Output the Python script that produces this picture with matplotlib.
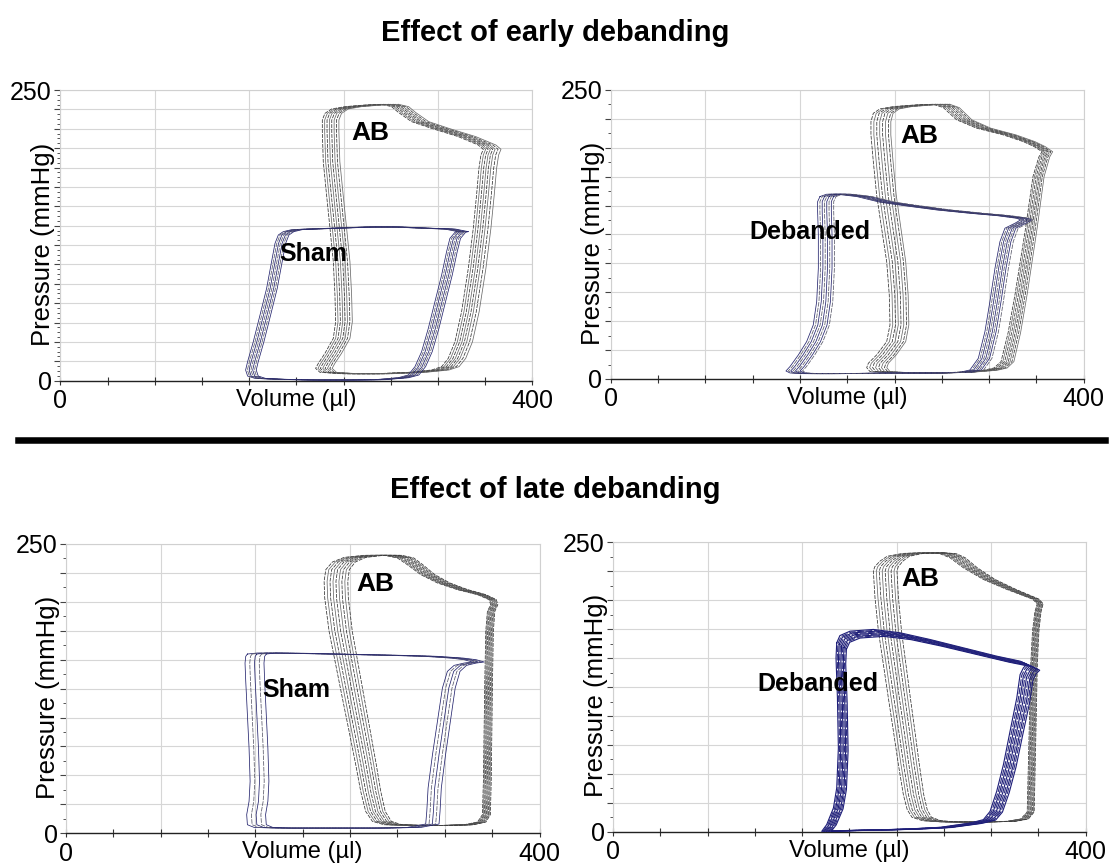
import numpy as np
import matplotlib.pyplot as plt
from matplotlib.lines import Line2D
from matplotlib.ticker import FixedLocator, MultipleLocator

plt.rcParams["font.family"] = ["Liberation Sans", "DejaVu Sans"]

# ---- axis ticks -------------------------------------------------------------
X_TICKS = [0, 80, 160, 240, 320, 400]
X_TICK_LABELS = ["0", "", "", "", "", "400"]

# ---- top-left: early debanding, AB + Sham (volume µl, pressure mmHg) --------
AB1_V = [272.2, 258.1, 241.2, 229.9, 224.2, 222.0, 222.0, 222.8, 225.6, 228.5, 231.3, 232.7,
         233.3, 231.3, 224.2, 218.6, 216.3, 220.0, 238.3, 266.6, 294.8, 314.6, 323.1, 328.7,
         334.4, 340.0, 345.7, 349.9, 352.7, 354.7, 356.4, 358.4, 354.1, 337.2, 314.6, 297.6,
         286.4, 280.7]
AB1_P = [237.7, 237.1, 235.7, 233.7, 229.9, 224.2, 214.2, 188.4, 159.7, 131.0, 102.4, 73.7,
         50.7, 36.4, 23.5, 14.9, 10.6, 7.2, 6.0, 6.0, 7.2, 9.2, 12.1, 19.2,
         33.5, 59.3, 96.6, 131.0, 159.7, 182.6, 194.1, 199.0, 202.7, 209.9, 217.0, 222.8,
         230.8, 235.7]
AB1_LEFT = [0, 2, 4, 6, 8, 10, 12, 14]
AB1_RIGHT = [0, 2, 4, 6, 8, 10, 12.5, 15]

SHAM1_V = [336.6, 325.9, 308.9, 280.7, 258.1, 241.2, 224.2, 207.3, 196.0, 188.9, 184.7, 181.9,
           179.0, 174.8, 169.2, 163.5, 158.7, 157.0, 158.7, 164.9, 181.9, 210.1, 238.3, 266.6,
           286.4, 294.8, 300.5, 306.1, 311.8, 317.4, 323.1, 327.3, 330.1, 334.4]
SHAM1_P = [128.2, 130.4, 131.0, 132.2, 132.2, 131.6, 131.0, 130.4, 129.9, 128.2, 125.3, 118.1,
           102.4, 79.4, 56.5, 33.5, 16.4, 9.2, 4.0, 2.0, 1.2, 0.6, 0.6, 0.9,
           2.6, 4.9, 12.1, 24.9, 45.0, 67.9, 90.9, 111.0, 122.4, 127.6]
SHAM1_LEFT = [0, 1.5, 3, 4.5, 6, 7.5, 9]
SHAM1_RIGHT = [0, 1.5, 3, 4.5, 6, 7.5, 9]

# ---- top-right: early debanding, AB + Debanded ------------------------------
AB2_V = [272.7, 258.6, 238.9, 227.6, 222.0, 220.0, 220.0, 222.0, 224.8, 229.0, 233.3, 235.5,
         236.1, 233.3, 224.8, 217.8, 216.4, 219.2, 241.7, 269.9, 292.5, 315.0, 324.0, 330.0,
         336.0, 342.0, 351.0, 357.0, 362.0, 364.7, 358.0, 348.8, 331.9, 309.4, 292.5, 281.2]
AB2_P = [237.6, 237.1, 235.6, 233.6, 229.8, 222.6, 211.1, 188.0, 159.2, 130.4, 101.5, 72.7,
         46.7, 32.3, 20.8, 13.6, 9.8, 6.4, 5.2, 5.2, 5.8, 7.5, 9.5, 15.0,
         40.0, 74.0, 131.8, 175.0, 192.0, 196.6, 201.0, 205.3, 211.1, 216.9, 224.1, 234.7]
AB2_LEFT = [0, 2.5, 5, 7.5, 10, 12.5, 15, 17]
AB2_RIGHT = [0, 1.2, 2.5, 3.8, 5, 6.2, 7.5, 9]

DEB2_V = [176.9, 182.5, 191.0, 207.9, 227.6, 247.4, 275.5, 303.7, 326.3, 343.2, 346.6, 341.8,
          333.3, 329.1, 324.9, 320.6, 316.4, 310.8, 303.7, 295.3, 269.9, 241.7, 213.5, 185.3,
          162.8, 151.5, 148.1, 151.5, 158.6, 165.6, 171.2, 174.1, 175.5, 175.5, 174.9, 174.9]
DEB2_P = [157.8, 159.8, 159.8, 157.8, 152.9, 150.0, 146.2, 143.3, 141.3, 139.0, 137.6, 134.7,
          130.4, 118.8, 95.8, 66.9, 41.0, 17.9, 7.8, 5.8, 5.2, 5.2, 4.9, 4.6,
          4.6, 5.2, 6.9, 10.7, 20.8, 32.3, 46.7, 66.9, 95.8, 124.6, 144.8, 153.4]
DEB2_LEFT = [0, 2, 4, 6, 8, 10, 12, 14]
DEB2_RIGHT = [0, 1.5, 3, 4.5, 6, 7.5, 9, 11]

# ---- bottom-left: late debanding, AB + Sham ---------------------------------
AB3_V = [268.7, 251.8, 235.0, 225.1, 219.5, 218.1, 218.6, 222.3, 227.9, 233.5, 239.2, 244.8,
         249.0, 253.2, 258.9, 268.7, 291.3, 316.6, 336.3, 347.6, 351.8, 352.6, 353.2, 353.8,
         354.6, 356.0, 358.8, 357.4, 347.6, 330.7, 313.8, 299.7, 288.4, 280.0]
AB3_P = [240.2, 240.2, 238.4, 234.4, 227.8, 217.7, 203.3, 174.5, 145.7, 116.9, 88.1, 59.3,
         36.2, 18.9, 10.3, 7.4, 6.8, 6.8, 7.4, 9.7, 16.1, 44.9, 88.1, 131.3,
         174.5, 191.8, 197.5, 201.9, 206.2, 210.5, 216.3, 223.5, 232.1, 237.9]
AB3_LEFT = [0, 2.5, 5, 7.5, 10, 12.5, 15, 17.5, 20]
AB3_RIGHT = [0, 0.7, 1.5, 2.2, 3, 3.7, 4.5, 5.2, 6]

SHAM3_V = [153.3, 161.8, 189.9, 218.1, 246.2, 274.4, 302.5, 325.0, 336.3, 343.3, 336.3, 327.9,
           322.2, 318.0, 313.8, 309.6, 305.9, 304.8, 303.9, 288.4, 260.3, 232.1, 204.0, 175.8,
           158.9, 153.3, 152.7, 154.7, 155.6, 154.7, 153.3, 151.9, 151.3, 151.9]
SHAM3_P = [154.9, 155.8, 155.5, 154.9, 154.3, 153.7, 152.9, 151.4, 150.0, 148.0, 147.1, 145.1,
           139.9, 125.5, 96.7, 67.9, 39.1, 18.9, 8.0, 5.1, 4.5, 4.5, 4.5, 4.5,
           5.1, 7.4, 16.1, 27.6, 44.9, 73.7, 102.5, 131.3, 147.1, 152.9]
SHAM3_LEFT = [0, 4, 8, 12, 16]
SHAM3_RIGHT = [0, 2.5, 5, 7.5, 10]

# ---- bottom-right: late debanding, AB + Debanded ----------------------------
AB4_V = [265.1, 245.0, 232.0, 226.0, 221.5, 220.3, 221.7, 224.6, 228.8, 233.0, 237.3, 241.5,
         245.7, 249.0, 253.0, 262.0, 276.8, 305.0, 333.2, 345.0, 350.5, 351.5, 352.5, 353.5,
         355.0, 357.0, 359.0, 355.0, 333.2, 313.4, 296.5, 285.2, 276.8]
AB4_P = [241.1, 240.5, 238.0, 233.9, 229.0, 225.2, 202.1, 173.3, 144.5, 115.6, 86.8, 58.0,
         32.0, 19.0, 12.5, 9.5, 8.5, 8.3, 9.0, 11.0, 17.0, 57.9, 101.2, 144.5,
         173.3, 190.0, 197.0, 201.0, 209.4, 218.0, 228.1, 236.7, 240.2]
AB4_LEFT = [0, 2.5, 5, 7.5, 10, 12.5, 15, 17.5, 20]
AB4_RIGHT = [0, 0.6, 1.2, 1.9, 2.5, 3.1, 3.8, 4.4, 5]

DEB4_V = [189.3, 192.0, 200.6, 220.3, 242.9, 268.3, 296.5, 324.7, 344.5, 350.1, 347.3, 344.5,
          341.7, 336.0, 330.4, 324.7, 319.1, 313.4, 302.2, 276.8, 248.5, 220.3, 192.1, 176.6,
          180.8, 186.5, 189.3, 190.7, 189.9, 188.7]
DEB4_P = [163.2, 169.5, 173.3, 174.8, 171.9, 166.1, 158.9, 151.7, 147.4, 144.5, 141.6, 135.8,
          115.6, 86.8, 58.0, 34.9, 17.6, 10.4, 7.5, 3.8, 2.3, 1.5, 0.9, 0.3,
          6.1, 20.5, 37.8, 72.4, 115.6, 150.2]
DEB4_LEFT = [0, 1, 2, 3, 4, 5, 6, 7, 8]
DEB4_RIGHT = [0, 1.4, 2.8, 4.1, 5.5, 6.9, 8.3, 9.6, 11]
DEB4_DP = [0, -0.8, -1.5, -2.2, -3, -3.8, -4.5, -5.2, -6]

AB_COLORS = ["#333333", "#6a6a6a"]
AB_STYLES = [(0, (5, 1.5)), "-"]
CTRL_COLORS = ["#24246e", "#5a5a6a"]
CTRL_STYLES = ["-", (0, (6, 1.5))]


def draw_family(ax, vol, pres, left, right, dp=None, colors=AB_COLORS, styles=AB_STYLES, lw=0.55):
    v = np.append(vol, vol[0])
    p = np.append(pres, pres[0])
    w = (v - v.min()) / (v.max() - v.min())
    for i, (dl, dr) in enumerate(zip(left, right)):
        shift_p = dp[i] if dp is not None else 0
        ax.plot(v + dl * (1 - w) + dr * w, p + shift_p * p / p.max(),
                color=colors[i % len(colors)], ls=styles[i % len(styles)],
                lw=lw, solid_joinstyle="round", zorder=3)


def setup_axes(ax, n_ygrid):
    ax.set_xlim(0, 400)
    ax.set_ylim(0, 250)
    ax.xaxis.set_major_locator(FixedLocator(X_TICKS))
    ax.set_xticklabels(X_TICK_LABELS)
    ax.xaxis.set_minor_locator(MultipleLocator(40))
    y_ticks = np.linspace(0, 250, n_ygrid + 1)
    ax.yaxis.set_major_locator(FixedLocator(y_ticks))
    ax.set_yticklabels(["0"] + [""] * (n_ygrid - 1) + ["250"])
    minor_per = 4 if n_ygrid > 10 else 2
    ax.yaxis.set_minor_locator(FixedLocator(np.linspace(0, 250, n_ygrid * minor_per + 1)))

    ax.grid(which="major", color="#d6d6d6", lw=0.8, zorder=0)
    ax.set_axisbelow(True)
    ax.tick_params(axis="y", which="major", direction="out", length=4, width=0.8,
                   color="#444444", pad=2, labelsize=18)
    ax.tick_params(axis="y", which="minor", direction="out", length=2.5, width=0.7,
                   color="#555555")
    ax.tick_params(axis="x", which="both", direction="inout", length=6, width=0.8,
                   color="#333333", pad=3, labelsize=18)
    for side in ["top", "right", "left"]:
        ax.spines[side].set_color("#d0d0d0")
        ax.spines[side].set_linewidth(0.8)
    ax.spines["bottom"].set_color("#222222")
    ax.spines["bottom"].set_linewidth(1.0)

    ax.set_xlabel("Volume (µl)", fontsize=17)
    ax.xaxis.set_label_coords(0.5, -0.066)
    ax.xaxis.label.set_va("center")
    ax.set_ylabel("Pressure (mmHg)", fontsize=18.5)
    ax.yaxis.set_label_coords(-0.037, 0.47)
    ax.yaxis.label.set_va("center")


fig = plt.figure(figsize=(11.11, 8.68), dpi=100)
fig.patch.set_facecolor("white")

ax1 = fig.add_axes([0.0543, 0.5614, 0.4249, 0.3349])
ax2 = fig.add_axes([0.5498, 0.5634, 0.4257, 0.3330])
ax3 = fig.add_axes([0.0593, 0.0400, 0.4263, 0.3333])
ax4 = fig.add_axes([0.5518, 0.0418, 0.4254, 0.3333])

setup_axes(ax1, 15)
for ax in (ax2, ax3, ax4):
    setup_axes(ax, 10)

# panel 1
draw_family(ax1, AB1_V, AB1_P, AB1_LEFT, AB1_RIGHT)
draw_family(ax1, SHAM1_V, SHAM1_P, SHAM1_LEFT, SHAM1_RIGHT, colors=CTRL_COLORS, styles=CTRL_STYLES)
ax1.text(263, 213, "AB", fontsize=19, fontweight="bold", ha="center", va="center", zorder=5)
ax1.text(214, 109, "Sham", fontsize=18, fontweight="bold", ha="center", va="center", zorder=5)

# panel 2
draw_family(ax2, AB2_V, AB2_P, AB2_LEFT, AB2_RIGHT)
draw_family(ax2, DEB2_V, DEB2_P, DEB2_LEFT, DEB2_RIGHT, colors=CTRL_COLORS, styles=CTRL_STYLES)
ax2.text(261, 210, "AB", fontsize=19, fontweight="bold", ha="center", va="center", zorder=5)
ax2.text(168, 127, "Debanded", fontsize=18, fontweight="bold", ha="center", va="center", zorder=5)

# panel 3
draw_family(ax3, AB3_V, AB3_P, AB3_LEFT, AB3_RIGHT)
draw_family(ax3, SHAM3_V, SHAM3_P, SHAM3_LEFT, SHAM3_RIGHT, colors=CTRL_COLORS, styles=CTRL_STYLES)
ax3.text(261, 215, "AB", fontsize=19, fontweight="bold", ha="center", va="center", zorder=5)
ax3.text(195, 124, "Sham", fontsize=18, fontweight="bold", ha="center", va="center", zorder=5)

# panel 4
draw_family(ax4, AB4_V, AB4_P, AB4_LEFT, AB4_RIGHT)
draw_family(ax4, DEB4_V, DEB4_P, DEB4_LEFT, DEB4_RIGHT, dp=DEB4_DP,
            colors=["#1c1c78", "#2e2e80"], styles=["-", (0, (6, 1.5))], lw=0.8)
ax4.text(260, 218, "AB", fontsize=19, fontweight="bold", ha="center", va="center", zorder=5)
ax4.text(173, 128, "Debanded", fontsize=18, fontweight="bold", ha="center", va="center", zorder=5)

fig.text(0.5, 0.9528, "Effect of early debanding", ha="center", va="baseline",
         fontsize=21, fontweight="bold")
fig.text(0.5, 0.4263, "Effect of late debanding", ha="center", va="baseline",
         fontsize=21, fontweight="bold")
fig.add_artist(Line2D([0.016, 0.995], [0.4931, 0.4931], transform=fig.transFigure,
                      color="black", lw=4.7))

fig.savefig("out.png", dpi=100)
plt.close(fig)
